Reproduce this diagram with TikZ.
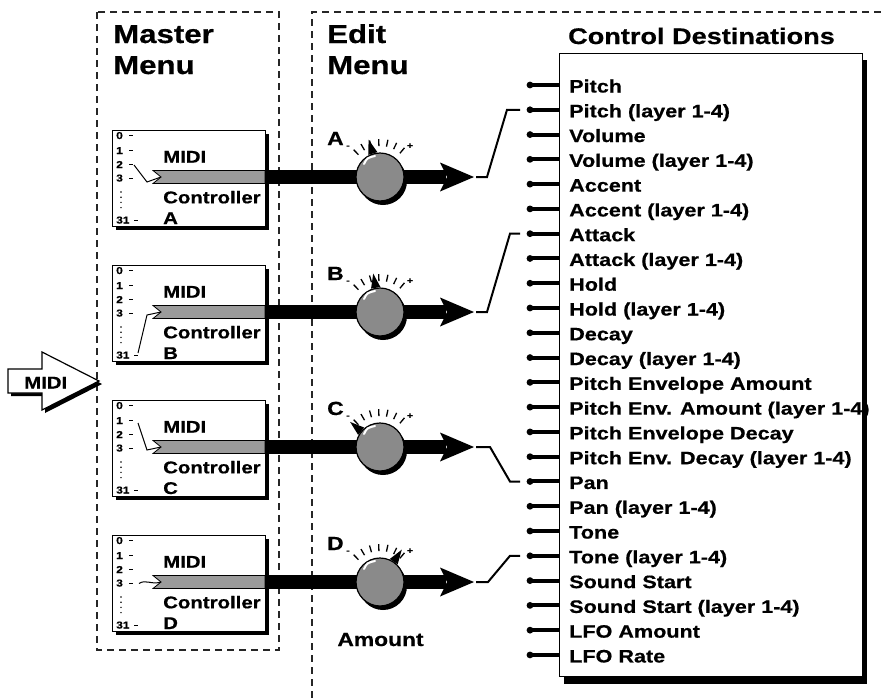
\documentclass[tikz,border=0pt]{standalone}
\usepackage{fontspec}
\setmainfont{Liberation Sans}[FakeStretch=1.2, BoldFeatures={FakeBold=0.6}]
\usetikzlibrary{calc}
\definecolor{knobgray}{RGB}{138,138,138}
\definecolor{bargray}{RGB}{155,155,155}
\tikzset{
  dashedline/.style={draw=black!85, line width=1.1pt, dash pattern=on 7pt off 5pt},
  lbl/.style={font=\bfseries\fontsize{17}{17}\selectfont, inner sep=0pt, anchor=base west},
  arrowlbl/.style={font=\bfseries\fontsize{17}{17}\selectfont, inner sep=0pt, anchor=base west},
  num/.style={font=\bfseries\fontsize{10}{10}\selectfont, inner sep=0pt, anchor=base west},
  dest/.style={font=\bfseries\fontsize{18}{18}\selectfont, inner sep=0pt, anchor=base west},
  title/.style={font=\bfseries\fontsize{26}{26}\selectfont, inner sep=0pt, anchor=base west},
  ctitle/.style={font=\bfseries\fontsize{22.6}{22.6}\selectfont, inner sep=0pt, anchor=base},
  knoblbl/.style={font=\bfseries\fontsize{19}{19}\selectfont, inner sep=0pt, anchor=base west},
  pm/.style={font=\bfseries\fontsize{9}{9}\selectfont, inner sep=0pt},
  wire/.style={line width=2pt, line join=miter},
  pinline/.style={line width=4pt},
  selline/.style={line width=1pt},
  tick/.style={line width=1.3pt},
}
\begin{document}
\begin{tikzpicture}[x=1pt,y=-1pt]
\useasboundingbox (0,0) rectangle (881,699);

% dashed menu frames
\draw[dashedline] (97,12) rectangle (279,650);
\draw[dashedline] (881,12) -- (312,12) -- (312,699);

% titles
\node[title] (mm1) at (113,43) {Master};
\node[title] (mm2) at (113,74) {Menu};
\node[title] (em1) at (327,43) {Edit};
\node[title] (em2) at (327,74) {Menu};
\node[ctitle] (cd) at (701.5,44) {Control Destinations};

% destinations box
\fill (564,60) rectangle (867,684);
\draw[fill=white, line width=1pt] (559,53) rectangle (862,676);
\foreach \t [count=\i from 0] in {Pitch,Pitch (layer 1-4),Volume,Volume (layer 1-4),Accent,Accent (layer 1-4),Attack,Attack (layer 1-4),Hold,Hold (layer 1-4),Decay,Decay (layer 1-4),Pitch Envelope Amount,Pitch Env. Amount (layer 1-4),Pitch Envelope Decay,Pitch Env. Decay (layer 1-4),Pan,Pan (layer 1-4),Tone,Tone (layer 1-4),Sound Start,Sound Start (layer 1-4),LFO Amount,LFO Rate} {
  \pgfmathsetmacro\yy{85+24.78*\i}
  \coordinate (d\i) at (530,\yy);
  \draw[pinline] (d\i) -- (559,\yy);
  \fill (d\i) circle (3.4);
  \node[dest] (t\i) at (569,\yy+7.5) {\t};
}

% incoming MIDI arrow
\fill (11,372) -- (45,372) -- (45,355) -- (102,384) -- (45,413) -- (45,396) -- (11,396) -- cycle;
\draw[fill=white, line width=1.2pt] (8,369) -- (42,369) -- (42,352) -- (99,381) -- (42,410) -- (42,393) -- (8,393) -- cycle;
\node[arrowlbl] (midiin) at (24,388.5) {MIDI};

% controller boxes, bars and knobs
\foreach \L/\T/\p in {A/130/-107,B/265/-100,C/400/-140,D/535/-56} {
  \fill (116,\T+4) rectangle (269,\T+100);
  \draw[fill=white, line width=1pt] (112,\T) rectangle (265,\T+96);
  \node[num] (n0\L) at (116,\T+9) {0};
  \node[num] (n1\L) at (116,\T+24) {1};
  \node[num] (n2\L) at (116,\T+38) {2};
  \node[num] (n3\L) at (116,\T+51.5) {3};
  \node[num] (n31\L) at (116,\T+93.5) {31};
  \draw[line width=0.9pt] (129,\T+5.5) -- (133,\T+5.5);
  \draw[line width=0.9pt] (129,\T+20.5) -- (133,\T+20.5);
  \draw[line width=0.9pt] (129,\T+34.5) -- (133,\T+34.5);
  \draw[line width=0.9pt] (129,\T+48) -- (133,\T+48);
  \draw[line width=0.9pt] (134,\T+90) -- (138,\T+90);
  \foreach \k in {0,1,2,3} \fill (121,\T+62+5.2*\k) circle (0.8);
  \node[lbl] (midi\L) at (163,\T+32.7) {MIDI};
  \node[lbl] (ctl\L) at (163,\T+73.3) {Controller};
  \node[lbl] (let\L) at (163,\T+94) {\L};
  % gray bar
  \draw[fill=bargray, line width=0.8pt] (153,\T+40.5) -- (265,\T+40.5) -- (265,\T+53.5) -- (153,\T+53.5) -- (161,\T+47) -- cycle;
  % black bar and arrow head
  \fill (265,\T+40) rectangle (446,\T+54);
  \fill (440,\T+32.5) -- (474,\T+47) -- (440,\T+61.5) -- (447,\T+47) -- cycle;
  % knob
  \coordinate (k\L) at (380,\T+47);
  \fill (383,\T+51) circle (24);
  \draw[fill=knobgray, line width=1.2pt] (k\L) circle (24);
  \draw[white, line width=2pt, line cap=round] ($(k\L)+(-16,-13)$) .. controls ($(k\L)+(-13,-19)$) .. ($(k\L)+(-5,-21)$);
  \foreach \a in {-50,-64,-78,-92,-106,-120,-134}
    \draw[tick] ($(k\L)+(\a:31)$) -- ($(k\L)+(\a:38)$);
  \fill ($(k\L)+(\p:39)$) -- ($(k\L)+(\p+11:25)$) -- ($(k\L)+(\p-11:25)$) -- cycle;
  \node[pm] (minus\L) at ($(k\L)+(-32,-30)$) {-};
  \node[pm] (plus\L) at ($(k\L)+(30,-31)$) {+};
  \node[knoblbl] (kl\L) at ($(k\L)+(-53,-32)$) {\L};
  \coordinate (tip\L) at (476,\T+47);
}

% selection lines inside controller boxes
\draw[selline] (134,165) -- (147,182) -- (161,177);
\draw[selline] (138,353) -- (147,315) -- (161,312);
\draw[selline] (138,423) -- (147,450) -- (161,447);
\draw[selline] (139,583.5) .. controls (146,579) and (151,585) .. (161,582);

% brackets to destinations
\coordinate (endA) at (520,109.8);
\coordinate (endB) at (520,233.7);
\coordinate (endC) at (520,481.5);
\coordinate (endD) at (520,555.8);
\draw[wire] (tipA) -- (487,177) -- (507,109.8) -- (endA);
\draw[wire] (tipB) -- (487,312) -- (510,233.7) -- (endB);
\draw[wire] (tipC) -- (490,447) -- (510,481.5) -- (endC);
\draw[wire] (tipD) -- (488,582) -- (510,555.8) -- (endD);

\node[font=\bfseries\fontsize{19}{19}\selectfont, inner sep=0pt, anchor=base] (amount) at (380.5,646) {Amount};
\end{tikzpicture}
\end{document}
